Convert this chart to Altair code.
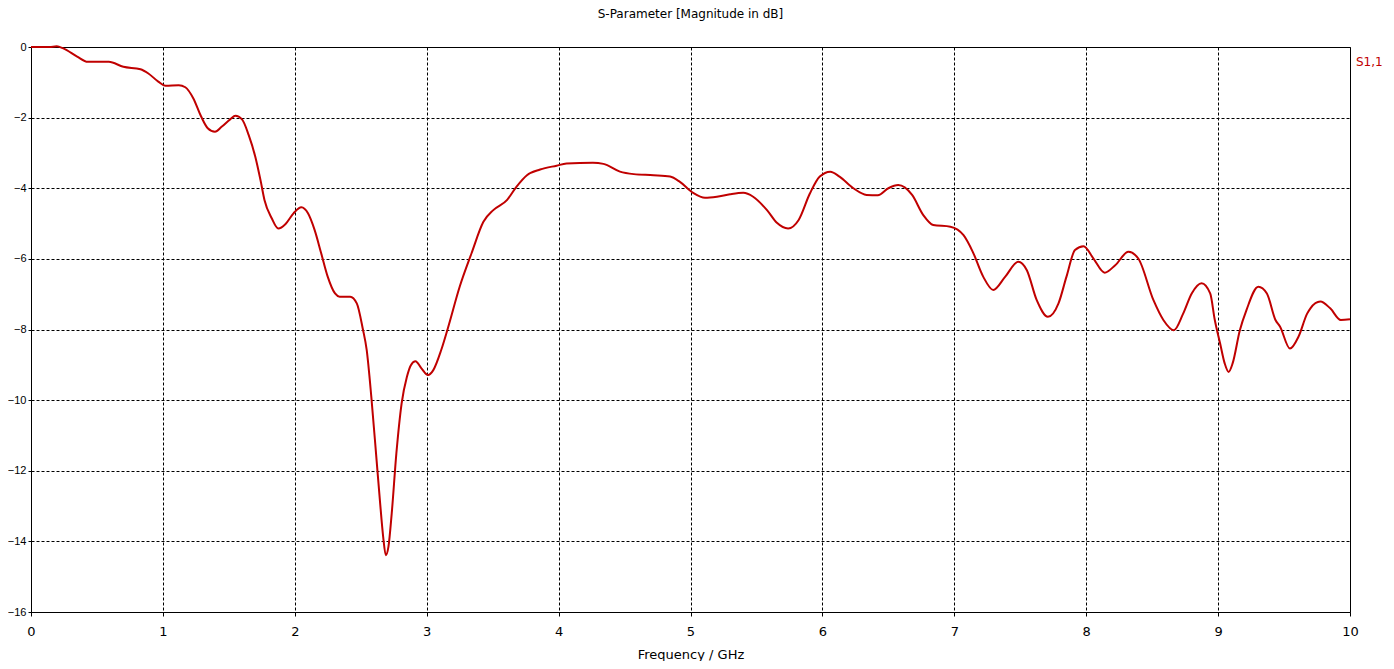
import altair as alt
import pandas as pd

freq_ghz = [0, 0.14, 0.195, 0.245, 0.35, 0.43, 0.59, 0.70, 0.83, 0.89, 0.965, 1.02, 1.12, 1.17,
            1.23, 1.29, 1.34, 1.395, 1.445, 1.51, 1.55, 1.60, 1.65, 1.70, 1.74, 1.77, 1.825, 1.875,
            1.93, 1.99, 2.05, 2.10, 2.15, 2.20, 2.25, 2.305, 2.34, 2.42, 2.47, 2.515, 2.545, 2.58,
            2.62, 2.645, 2.67, 2.69, 2.71, 2.735, 2.77, 2.81, 2.85, 2.88, 2.915, 2.96, 3.01, 3.05,
            3.11, 3.16, 3.25, 3.34, 3.43, 3.505, 3.61, 3.68, 3.76, 3.86, 3.985, 4.06, 4.26, 4.34,
            4.465, 4.57, 4.72, 4.845, 4.92, 5.02, 5.11, 5.20, 5.30, 5.40, 5.475, 5.58, 5.655, 5.74,
            5.82, 5.905, 5.98, 6.06, 6.13, 6.235, 6.335, 6.42, 6.50, 6.575, 6.68, 6.765, 6.84, 6.97,
            7.07, 7.14, 7.22, 7.295, 7.385, 7.485, 7.55, 7.625, 7.71, 7.79, 7.85, 7.915, 7.98, 8.055,
            8.14, 8.22, 8.32, 8.395, 8.51, 8.585, 8.665, 8.735, 8.80, 8.875, 8.94, 8.975, 9.015,
            9.05, 9.08, 9.11, 9.165, 9.215, 9.305, 9.37, 9.435, 9.47, 9.545, 9.61, 9.675, 9.70,
            9.775, 9.85, 9.93, 10.0]

s11_db = [0, 0, 0.02, -0.04, -0.27, -0.42, -0.42, -0.56, -0.63, -0.75, -0.98, -1.10, -1.08, -1.14,
          -1.45, -1.97, -2.30, -2.40, -2.26, -2.05, -1.95, -2.05, -2.49, -3.10, -3.77, -4.33, -4.85, -5.14,
          -5.01, -4.71, -4.54, -4.71, -5.18, -5.84, -6.51, -6.98, -7.07, -7.07, -7.26, -7.97, -8.58, -9.90,
          -11.70, -12.83, -13.87, -14.39, -14.15, -13.20, -11.51, -10.09, -9.34, -9.01, -8.90, -9.10, -9.29, -9.15,
          -8.58, -7.97, -6.79, -5.84, -4.95, -4.62, -4.33, -3.96, -3.63, -3.47, -3.36, -3.30, -3.28, -3.31,
          -3.53, -3.60, -3.63, -3.67, -3.82, -4.13, -4.27, -4.24, -4.17, -4.13, -4.24, -4.62, -4.98, -5.14,
          -4.90, -4.15, -3.67, -3.53, -3.67, -4.00, -4.19, -4.20, -4.00, -3.91, -4.19, -4.76, -5.04, -5.09,
          -5.33, -5.80, -6.51, -6.88, -6.51, -6.08, -6.32, -7.17, -7.64, -7.26, -6.51, -5.75, -5.64, -5.99,
          -6.39, -6.18, -5.80, -5.99, -7.17, -7.73, -8.02, -7.55, -6.98, -6.69, -6.98, -7.73, -8.39,
          -8.96, -9.20, -8.96, -8.02, -7.45, -6.79, -6.98, -7.73, -7.92, -8.54, -8.20, -7.55, -7.40,
          -7.21, -7.40, -7.73, -7.71]

series_name = ["S1,1"]
x_ticks = list(range(0, 11))
y_ticks = list(range(-16, 1, 2))

n = min(len(freq_ghz), len(s11_db))
df = pd.DataFrame({"freq": freq_ghz[:n], "s11": s11_db[:n], "series": series_name * n})

FONT = "DejaVu Sans"
YFONT = "Liberation Sans"
RED = "#c00000"

chart = alt.Chart(df).mark_line(
    interpolate="monotone", strokeWidth=2, color=RED
).encode(
    x=alt.X("freq:Q",
            scale=alt.Scale(domain=[0, 10], nice=False),
            axis=alt.Axis(values=x_ticks, title="Frequency / GHz", format="d",
                          labelFont=FONT, labelFontSize=13, titleFont=FONT, titleFontSize=13,
                          labelPadding=9, tickSize=4, titlePadding=10, labelFlush=False)),
    y=alt.Y("s11:Q",
            scale=alt.Scale(domain=[-16, 0], nice=False),
            axis=alt.Axis(values=y_ticks, title=None, format="d",
                          labelFont=YFONT, labelFontSize=11, labelFlush=False,
                          labelPadding=2, tickSize=3)),
    color=alt.Color("series:N",
                    scale=alt.Scale(domain=series_name, range=[RED]),
                    legend=alt.Legend(title=None, orient="none", legendX=1313, legendY=9,
                                      symbolOpacity=0, symbolSize=0, symbolStrokeWidth=0,
                                      labelOffset=0, padding=0,
                                      labelColor=RED, labelFont=FONT, labelFontSize=12)),
).properties(
    width=1319,
    height=565,
    background="white",
    autosize=alt.AutoSizeParams(type="none"),
    padding={"left": 23, "top": 39, "right": 36, "bottom": 49},
    title=alt.TitleParams("S-Parameter [Magnitude in dB]", font=FONT, fontSize=12,
                          fontWeight="normal", color="black", anchor="middle", offset=20),
).configure_view(
    stroke="black", strokeWidth=1
).configure_axis(
    domainColor="black", tickColor="black", gridColor="black", gridDash=[3, 2],
    gridOpacity=1, gridWidth=1, labelColor="black",
    titleFontWeight="normal", titleColor="black",
    domainWidth=1, tickWidth=1
)

chart.save("out.html", embed_options={"renderer": "svg", "actions": False})
